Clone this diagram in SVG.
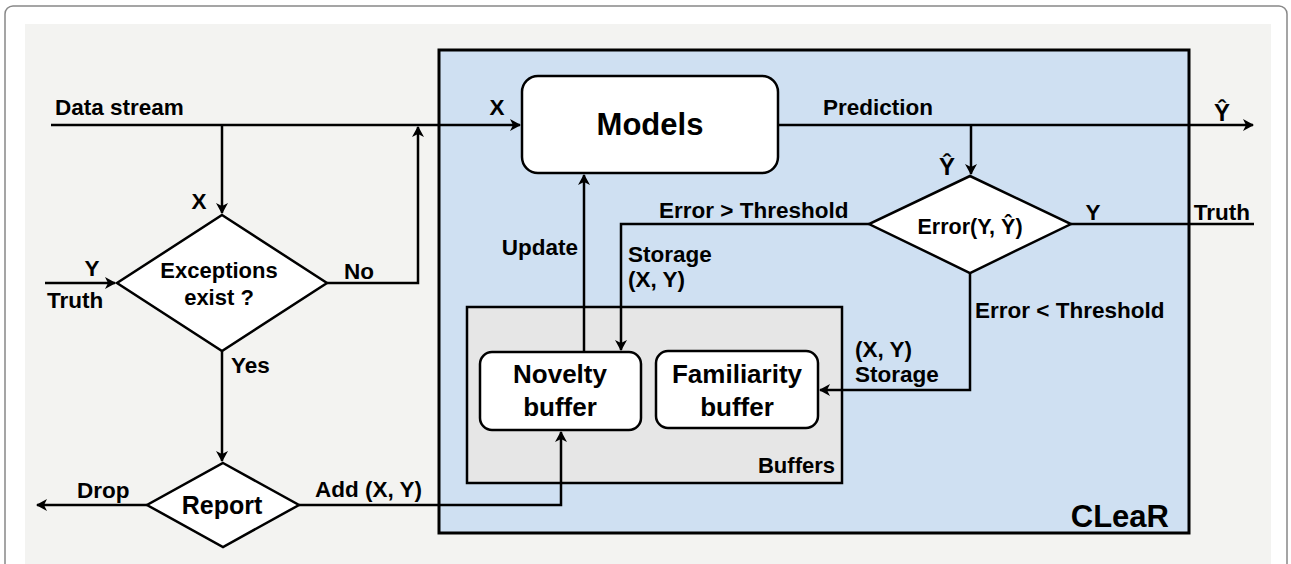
<svg xmlns="http://www.w3.org/2000/svg" width="1291" height="564" viewBox="0 0 1291 564">
<defs>
<marker id="arr" markerWidth="12" markerHeight="12" refX="10" refY="6" orient="auto" markerUnits="userSpaceOnUse">
<path d="M0,0 L11,6 L0,12 L3,6 z" fill="#000"/>
</marker>
</defs>
<style>
text{font-family:"Liberation Sans",Arial,sans-serif;font-weight:bold;fill:#000}
.lbl{font-size:22.5px}
.big{font-size:26px}
.line{fill:none;stroke:#000;stroke-width:2.5}
.node{fill:#fff;stroke:#000;stroke-width:2.5}
</style>
<rect x="5" y="6" width="1282" height="600" rx="8" fill="#fff" stroke="#888" stroke-width="1.5"/>
<rect x="25" y="24" width="1246" height="545" fill="#f3f3f1"/>
<g id="clear">
<rect x="439" y="50" width="750" height="483" fill="#cfe0f2" stroke="#000" stroke-width="3"/>
<text x="1169" y="527" font-size="31" text-anchor="end">CLeaR</text>
</g>
<g id="buffers">
<rect x="467" y="307" width="375" height="176" fill="#e6e6e6" stroke="#000" stroke-width="2.5"/>
<text x="835" y="473" font-size="22" text-anchor="end">Buffers</text>
</g>
<g id="connectors">
<path class="line" d="M51,125 L520,125" marker-end="url(#arr)"/>
<path class="line" d="M222,125 L222,213" marker-end="url(#arr)"/>
<path class="line" d="M45,283 L115,283" marker-end="url(#arr)"/>
<path class="line" d="M327,283 L418,283 L418,127" marker-end="url(#arr)"/>
<path class="line" d="M222,351 L222,461" marker-end="url(#arr)"/>
<path class="line" d="M147,505 L37,505" marker-end="url(#arr)"/>
<path class="line" d="M299,505 L561,505 L561,432" marker-end="url(#arr)"/>
<path class="line" d="M778,125 L1253,125" marker-end="url(#arr)"/>
<path class="line" d="M971,125 L971,174" marker-end="url(#arr)"/>
<path class="line" d="M1071,224 L1254,224"/>
<path class="line" d="M869,224 L621,224 L621,350" marker-end="url(#arr)"/>
<path class="line" d="M584,352 L584,175" marker-end="url(#arr)"/>
<path class="line" d="M970,273 L970,390 L820,390" marker-end="url(#arr)"/>
</g>
<g id="labels">
<text x="55" y="115" class="lbl">Data stream</text>
<text x="199" y="209" class="lbl" text-anchor="middle">X</text>
<text x="92" y="276" class="lbl" text-anchor="middle">Y</text>
<text x="47" y="308" class="lbl">Truth</text>
<text x="344" y="279" class="lbl">No</text>
<text x="231" y="373" class="lbl">Yes</text>
<text x="77" y="498" class="lbl">Drop</text>
<text x="315" y="497" class="lbl">Add (X, Y)</text>
<text x="497" y="115" class="lbl" text-anchor="middle">X</text>
<text x="823" y="115" class="lbl">Prediction</text>
<text x="1222" y="121" font-size="24" text-anchor="middle">Ŷ</text>
<text x="947" y="175" font-size="24" text-anchor="middle">Ŷ</text>
<text x="1093" y="220" class="lbl" text-anchor="middle">Y</text>
<text x="1250" y="220" class="lbl" text-anchor="end">Truth</text>
<text x="659" y="218" class="lbl">Error &gt; Threshold</text>
<text x="628" y="262" class="lbl">Storage</text>
<text x="628" y="287" class="lbl">(X, Y)</text>
<text x="578" y="255" class="lbl" text-anchor="end">Update</text>
<text x="975" y="318" class="lbl">Error &lt; Threshold</text>
<text x="855" y="357" class="lbl">(X, Y)</text>
<text x="855" y="382" class="lbl">Storage</text>
</g>
<g id="exceptions">
<polygon class="node" points="222,215 327,283 222,351 117,283"/>
<text x="219" y="278" font-size="22" text-anchor="middle">Exceptions</text>
<text x="219" y="305" font-size="22" text-anchor="middle">exist ?</text>
</g>
<g id="report">
<polygon class="node" points="223,463 299,505 223,547 147,505"/>
<text x="222" y="514" font-size="25" text-anchor="middle">Report</text>
</g>
<g id="models">
<rect class="node" x="522" y="76" width="256" height="97" rx="16"/>
<text x="650" y="135" font-size="31" text-anchor="middle">Models</text>
</g>
<g id="error">
<polygon class="node" points="970,176 1071,224 970,273 869,224"/>
<text x="970" y="234" font-size="21.5" text-anchor="middle">Error(Y, Ŷ)</text>
</g>
<g id="novelty">
<rect class="node" x="480" y="352" width="161" height="78" rx="12"/>
<text x="560" y="383" class="big" text-anchor="middle">Novelty</text>
<text x="560" y="416" class="big" text-anchor="middle">buffer</text>
</g>
<g id="familiarity">
<rect class="node" x="656" y="351" width="162" height="77" rx="12"/>
<text x="737" y="383" class="big" text-anchor="middle">Familiarity</text>
<text x="737" y="416" class="big" text-anchor="middle">buffer</text>
</g>
</svg>
